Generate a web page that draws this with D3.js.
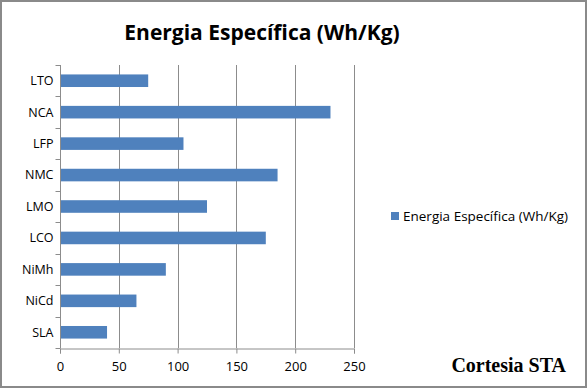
<!DOCTYPE html>
<html>
<head>
<meta charset="utf-8">
<script src="https://cdn.jsdelivr.net/npm/d3@7"></script>
<style>
  body { margin: 0; background: #fff; }
  svg { display: block; }
</style>
</head>
<body>
<svg id="chart"></svg>
<script>
// data
const categories = ['LTO', 'NCA', 'LFP', 'NMC', 'LMO', 'LCO', 'NiMh', 'NiCd', 'SLA'];
const values = [75, 230, 105, 185, 125, 175, 90, 65, 40];
const xTicks = [0, 50, 100, 150, 200, 250];
const seriesName = 'Energia Específica (Wh/Kg)';

const width = 587, height = 388;
const plot = { left: 60, right: 354, top: 65, bottom: 348 };

const svg = d3.select('#chart')
  .attr('width', width)
  .attr('height', height);

// outer frame
svg.append('rect')
  .attr('x', 1).attr('y', 1)
  .attr('width', width - 2).attr('height', height - 2)
  .attr('fill', '#fff')
  .attr('stroke', '#8a8a8a')
  .attr('stroke-width', 2);

const x = d3.scaleLinear()
  .domain([0, 250])
  .range([plot.left, plot.right]);

const y = d3.scaleBand()
  .domain(categories)
  .range([plot.top, plot.bottom])
  .paddingInner(0.6)
  .paddingOuter(0.3);

// vertical gridlines
svg.append('g')
  .selectAll('line')
  .data(xTicks.slice(1))
  .enter()
  .append('line')
  .attr('x1', d => Math.round(x(d)) + 0.5)
  .attr('x2', d => Math.round(x(d)) + 0.5)
  .attr('y1', plot.top)
  .attr('y2', plot.bottom)
  .attr('stroke', '#8c8c8c');

// bars
svg.selectAll('.bar')
  .data(categories)
  .enter()
  .append('rect')
  .attr('class', 'bar')
  .attr('x', x(0))
  .attr('y', d => y(d))
  .attr('width', (d, i) => x(values[i]) - x(0))
  .attr('height', y.bandwidth())
  .attr('fill', '#4f81bd');

// bottom axis
const xAxis = d3.axisBottom(x).tickValues(xTicks).tickSize(5).tickPadding(8);
const gx = svg.append('g')
  .attr('transform', `translate(0, ${plot.bottom + 0.5})`)
  .call(xAxis);
gx.select('.domain').attr('stroke', '#8c8c8c');
gx.selectAll('.tick line').attr('stroke', '#8c8c8c');
gx.selectAll('.tick text')
  .attr('fill', '#000')
  .style('font-family', 'Open Sans, sans-serif')
  .style('font-size', '13px');

// left axis with ticks at band boundaries
const gy = svg.append('g')
  .attr('transform', `translate(${plot.left + 0.5}, 0)`);
gy.append('line')
  .attr('y1', plot.top).attr('y2', plot.bottom)
  .attr('stroke', '#8c8c8c');
const bounds = d3.range(categories.length + 1).map(i => plot.top + i * (plot.bottom - plot.top) / categories.length);
gy.selectAll('.ytick')
  .data(bounds)
  .enter()
  .append('line')
  .attr('class', 'ytick')
  .attr('x1', -5).attr('x2', 0)
  .attr('y1', d => Math.round(d) + 0.5)
  .attr('y2', d => Math.round(d) + 0.5)
  .attr('stroke', '#8c8c8c');
gy.selectAll('.ylabel')
  .data(categories)
  .enter()
  .append('text')
  .attr('class', 'ylabel')
  .attr('x', -7)
  .attr('y', d => y(d) + y.bandwidth() / 2)
  .attr('dy', '0.35em')
  .attr('text-anchor', 'end')
  .style('font-family', 'Open Sans, sans-serif')
  .style('font-size', '12.5px')
  .text(d => d);

// title
svg.append('text')
  .attr('x', 262)
  .attr('y', 40)
  .attr('text-anchor', 'middle')
  .style('font-family', 'Open Sans, sans-serif')
  .style('font-weight', 'bold')
  .style('font-size', '21px')
  .text('Energia Específica (Wh/Kg)');

// legend
const legend = svg.append('g').attr('transform', 'translate(391, 212)');
legend.append('rect')
  .attr('width', 8).attr('height', 8)
  .attr('fill', '#4f81bd');
legend.append('text')
  .attr('x', 12)
  .attr('y', 4)
  .attr('dy', '0.35em')
  .style('font-family', 'Open Sans, sans-serif')
  .style('font-size', '13.5px')
  .text(seriesName);

// credit
svg.append('text')
  .attr('x', 566)
  .attr('y', 372)
  .attr('text-anchor', 'end')
  .style('font-family', 'Liberation Serif, serif')
  .style('font-weight', 'bold')
  .style('font-size', '20px')
  .text('Cortesia STA');
</script>
</body>
</html>
